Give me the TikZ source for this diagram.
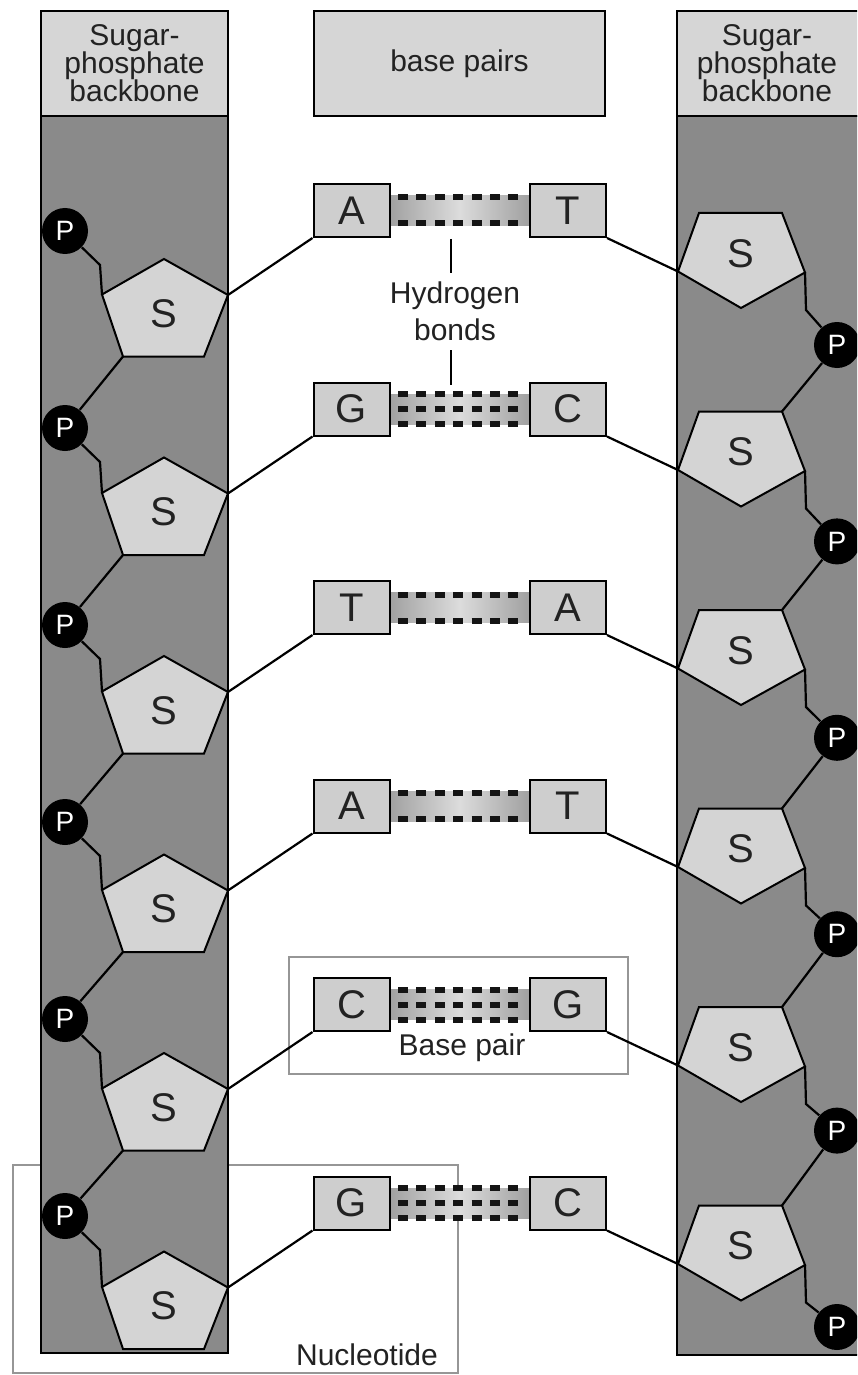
\documentclass[tikz,border=0pt]{standalone}
\usepackage{fontspec}
\setmainfont{Liberation Sans}
\usetikzlibrary{calc}
\definecolor{colbg}{RGB}{138,138,138}
\definecolor{hdrbg}{RGB}{214,214,214}
\definecolor{boxf}{RGB}{206,206,206}
\definecolor{pentf}{RGB}{212,212,212}
\definecolor{bandc}{RGB}{160,160,160}
\definecolor{bandm}{RGB}{220,220,220}
\definecolor{outl}{RGB}{150,150,150}
\definecolor{txt}{RGB}{34,34,34}
\begin{document}
\begin{tikzpicture}[x=0.5pt,y=-0.5pt,line join=miter,
  colrect/.style={fill=colbg,draw=black,line width=0.9pt},
  hdrbox/.style={fill=hdrbg,draw=black,line width=0.9pt,inner sep=0pt,align=center,text=txt,font=\fontsize{15}{14}\selectfont},
  basebox/.style={draw=black,fill=boxf,line width=1pt,minimum width=38pt,minimum height=26.5pt,inner sep=0pt,text=txt,font=\fontsize{20}{20}\selectfont},
  pnode/.style={circle,fill=black,minimum size=23pt,inner sep=0pt,text=white,font=\fontsize{14}{14}\selectfont},
  snode/.style={inner sep=0pt,text=txt,font=\fontsize{20}{20}\selectfont},
  pent/.style={fill=pentf,draw=black,line width=1pt},
  conn/.style={draw=black,line width=1.1pt},
  hb/.style={line width=3pt,dash pattern=on 5pt off 4.2pt,draw=black!92},
  lbl/.style={inner sep=0pt,align=center,text=txt,font=\fontsize{15}{18.5}\selectfont},
  outline/.style={draw=outl,line width=1.2pt}]
\clip (0,0) rectangle (857,1375);
\fill[white] (0,0) rectangle (857,1375);
% outline boxes
\draw[outline] (13,1165) rectangle (458,1373);
\draw[outline] (289,957) rectangle (628,1074);
\node[lbl] (nuc) at (367,1355) {Nucleotide};
\node[lbl] (bp) at (462,1048) {Base pair};
% columns
\draw[colrect] (41,116) rectangle (228,1353);
\draw[colrect] (677,116) rectangle (875,1355);
\node[hdrbox,minimum width=93.5pt,minimum height=52.5pt] (lhdr) at (134.5,63.5) {Sugar-\\phosphate\\backbone};
\node[hdrbox,minimum width=99pt,minimum height=52.5pt] (rhdrbox) at (776,63.5) {};
\node[inner sep=0pt,align=center,text=txt,font=\fontsize{15}{14}\selectfont] (rhdr) at (767,63.5) {Sugar-\\phosphate\\backbone};
\node[hdrbox,minimum width=145.5pt,minimum height=52.5pt] (mhdr) at (459.5,63.5) {base pairs};
% hydrogen bonds label
\node[lbl] (hbl) at (455,311) {Hydrogen\\bonds};
\coordinate (hbt1) at (451,239); \coordinate (hbt2) at (451,273);
\coordinate (hbb1) at (451,350); \coordinate (hbb2) at (451,385);
\draw[black,line width=0.8pt] (hbt1) -- (hbt2);
\draw[black,line width=0.8pt] (hbb1) -- (hbb2);
% rows
\foreach \k/\l/\r/\n in {1/A/T/2,2/G/C/3,3/T/A/2,4/A/T/2,5/C/G/3,6/G/C/3}{
  \pgfmathsetmacro\Y{210.5+198.5*(\k-1)}
  \pgfmathsetmacro\PL{231+197*(\k-1)}
  \pgfmathsetmacro\PR{345+196.4*(\k-1)}
  % band and dashes
  \shade[left color=bandc,right color=bandc,middle color=bandm] (389,\Y-15) rectangle (530,\Y+15);
  \ifnum\n=2 \def\offs{-13,13}\else\def\offs{-15,0,15}\fi
  \foreach \o in \offs {\draw[hb] (398,\Y+\o) -- (524,\Y+\o);}
  % base boxes
  \node[basebox] (L\k) at (351.5,\Y) {\l};
  \node[basebox] (R\k) at (568,\Y) {\r};
  % left pentagon
  \coordinate (lpt\k) at (164,\Y+48.5);
  \coordinate (lpl\k) at (102,\Y+84);
  \coordinate (lpr\k) at (228,\Y+84.5);
  \coordinate (lpbl\k) at (123,\Y+146);
  \coordinate (lpbr\k) at (204,\Y+146);
  \coordinate (lpe\k) at (100,\PL+34);
  \node[pnode] (LP\k) at (65,\PL) {P};
  \draw[conn] (LP\k) -- (lpe\k) -- (lpl\k);
  \draw[conn] (L\k.south west) -- (lpr\k);
  \draw[pent] (lpt\k) -- (lpr\k) -- (lpbr\k) -- (lpbl\k) -- (lpl\k) -- cycle;
  \node[snode] (LS\k) at (164,\Y+103) {S};
  % right pentagon
  \coordinate (rptl\k) at (699,\Y+2.5);
  \coordinate (rptr\k) at (782,\Y+2.5);
  \coordinate (rpr\k) at (805,\Y+62);
  \coordinate (rpb\k) at (741,\Y+97.5);
  \coordinate (rpl\k) at (678,\Y+61);
  \coordinate (rpe\k) at (806,\Y+99.5);
  \node[pnode] (RP\k) at (837,\PR) {P};
  \draw[conn] (rpr\k) -- (rpe\k) -- (RP\k);
  \draw[conn] (R\k.south east) -- (rpl\k);
  \draw[pent] (rptl\k) -- (rptr\k) -- (rpr\k) -- (rpb\k) -- (rpl\k) -- cycle;
  \node[snode] (RS\k) at (741,\Y+43) {S};
}
\foreach \k [evaluate=\k as \j using int(\k-1)] in {2,...,6}{
  \draw[conn] (lpbl\j) -- (LP\k);
  \draw[conn] (RP\j) -- (rptr\k);
}
\end{tikzpicture}
\end{document}
